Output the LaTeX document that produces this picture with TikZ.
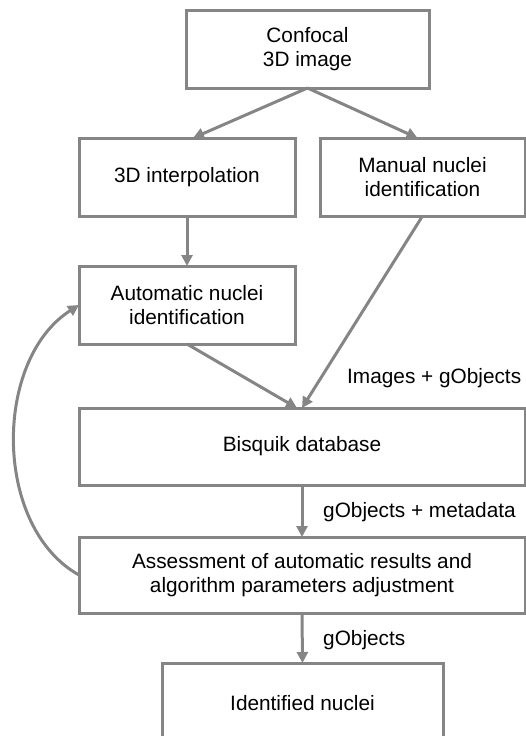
\documentclass[tikz,border=0pt]{standalone}
\usepackage{fontspec}
\setmainfont{Liberation Sans}
\usetikzlibrary{arrows.meta}
\definecolor{linegray}{HTML}{858585}
\tikzset{
  box/.style={draw=linegray, line width=3pt, rectangle, inner sep=0pt, outer sep=0pt,
    align=center, font=\fontsize{20.8}{24}\selectfont},
  flow/.style={draw=linegray, line width=3pt, -{Triangle[length=11pt,width=11pt]}},
  lbl/.style={anchor=west, inner sep=0pt, font=\fontsize{20.8}{24}\selectfont}
}
\begin{document}
\begin{tikzpicture}[x=1pt,y=-1pt]
\useasboundingbox (0,0) rectangle (526,736);

% process boxes
\node[box, minimum width=243pt, minimum height=78pt] (conf) at (307.5,49) {Confocal\\3D image};
\node[box, minimum width=216pt, minimum height=78pt] (interp) at (187,177) {3D interpolation};
\node[box, minimum width=205pt, minimum height=78pt] (manual) at (422.5,177) {Manual nuclei\\identification};
\node[box, minimum width=216pt, minimum height=78pt] (auto) at (187,305) {Automatic nuclei\\identification};
\node[box, minimum width=446pt, minimum height=77pt] (db) at (302,446.5) {Bisquik database};
\node[box, minimum width=446pt, minimum height=76pt] (assess) at (302,575) {Assessment of automatic results and\\algorithm parameters adjustment};
\node[box, minimum width=281pt, minimum height=80pt] (ident) at (302.5,703) {Identified nuclei};

% connectors
\draw[flow] (conf.south) -- ([xshift=6pt]interp.north);
\draw[flow] (conf.south) -- ([xshift=-5pt]manual.north);
\draw[flow] (interp.south) -- (auto.north);
\draw[flow] (manual.south) -- (db.north);
\draw[flow] (auto.south) -- ([xshift=-5pt]db.north);
\draw[flow] (db.south) -- (assess.north);
\draw[flow] (assess.south) -- (ident.north);
\draw[flow] (assess.west) .. controls (-7,527) and (-7,360) .. (auto.west);

% edge labels
\node[lbl] (lblimg) at (347,378) {Images + gObjects};
\node[lbl] (lblmeta) at (323,512) {gObjects + metadata};
\node[lbl] (lblobj) at (323,640) {gObjects};
\end{tikzpicture}
\end{document}
